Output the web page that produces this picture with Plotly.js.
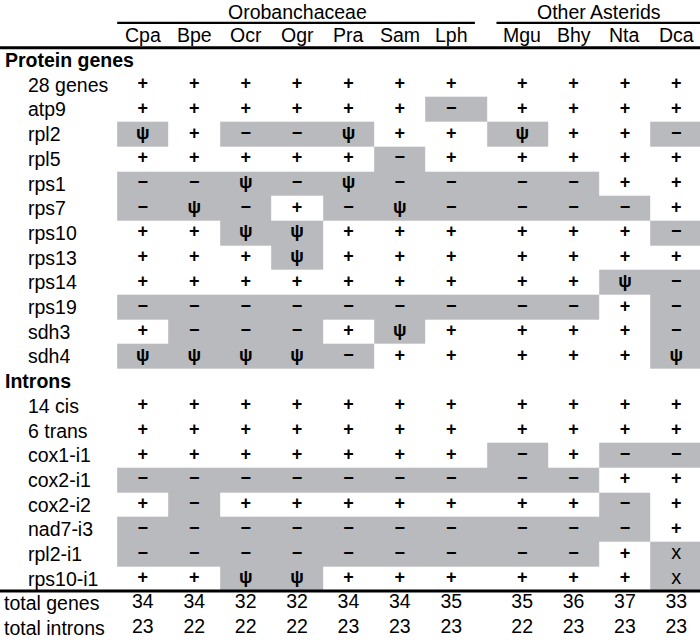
<!DOCTYPE html>
<html><head><meta charset="utf-8">
<script src="https://cdn.plot.ly/plotly-3.0.1.min.js"></script>
<style>html,body{margin:0;padding:0;background:#fff}</style>
</head><body><div id="chart" style="width:700px;height:642px"></div>
<script>
// ---- data ----
const species = ['Cpa','Bpe','Ocr','Ogr','Pra','Sam','Lph','Mgu','Bhy','Nta','Dca'];
const groupNames = ['Orobanchaceae','Other Asterids'];
const groupSizes = [7, 4];

const proteinGenes = ['28 genes','atp9','rpl2','rpl5','rps1','rps7','rps10','rps13','rps14','rps19','sdh3','sdh4'];
const proteinStatus = [
  '+++++++++++',
  '++++++−++++',
  'ψ+−−ψ++ψ++−',
  '+++++−+++++',
  '−−ψ−ψ−−−−++',
  '−ψ−+−ψ−−−−+',
  '++ψψ++++++−',
  '+++ψ+++++++',
  '+++++++++ψ−',
  '−−−−−−−−−+−',
  '+−−−+ψ++++−',
  'ψψψψ−+++++ψ'
];
const intronNames = ['14 cis','6 trans','cox1-i1','cox2-i1','cox2-i2','nad7-i3','rpl2-i1','rps10-i1'];
const intronStatus = [
  '+++++++++++',
  '+++++++++++',
  '+++++++−+−−',
  '−−−−−−−−−++',
  '+−+++++++−+',
  '−−−−−−−−−−+',
  '−−−−−−−−−+x',
  '++ψψ++++++x'
];
const totalGenes   = [34,34,32,32,34,34,35,35,36,37,33];
const totalIntrons = [23,22,22,22,23,23,23,22,23,23,23];
const sectionTitles = ['Protein genes','Introns'];
const totalLabels = ['total genes','total introns'];

// ---- layout helpers ----
const W = 700, H = 642;
const GAP = 0.38;
const FONT = 'Liberation Sans, Arial, Helvetica, sans-serif';
const FS = 19.5;
const GRAY = '#b9babd';
const colGroup = [];
groupSizes.forEach((n, g) => { for (let k = 0; k < n; k++) colGroup.push(g); });
const colX = species.map((s, i) => i + colGroup[i] * GAP);

const sections = [
  {title: sectionTitles[0], names: proteinGenes, status: proteinStatus},
  {title: sectionTitles[1], names: intronNames, status: intronStatus}
];

const hmY = [], hmZ = [];
const symX = [], symY = [], symT = [];
const xX = [], xY = [], xT = [];
const annotations = [];
let r = 0;
const pxX = px => px / W;
sections.forEach(sec => {
  hmY.push(r); hmZ.push(species.map(() => null));
  annotations.push({xref:'paper', yref:'y', x: pxX(3), y: r, xanchor:'left', yanchor:'middle',
    text: '<b>' + sec.title + '</b>', showarrow:false, font:{family:FONT, size:FS, color:'#000'}});
  r++;
  sec.names.forEach((nm, k) => {
    const st = Array.from(sec.status[k]);
    hmY.push(r);
    hmZ.push(st.map(c => c === '+' ? null : 1));
    st.forEach((c, i) => {
      if (c === 'x') { xX.push(colX[i]); xY.push(r); xT.push(c); }
      else { symX.push(colX[i]); symY.push(r); symT.push(c); }
    });
    annotations.push({xref:'paper', yref:'y', x: pxX(26), y: r, xanchor:'left', yanchor:'middle',
      text: nm, showarrow:false, font:{family:FONT, size:FS, color:'#000'}});
    r++;
  });
});
const lastDataRow = r - 1;
const totalRows = [r, r + 1];
const totX = [], totY = [], totT = [];
[totalGenes, totalIntrons].forEach((arr, j) => {
  arr.forEach((v, i) => { totX.push(colX[i]); totY.push(totalRows[j]); totT.push(String(v)); });
  annotations.push({xref:'paper', yref:'y', x: pxX(2), y: totalRows[j], xanchor:'left', yanchor:'middle',
    text: totalLabels[j], showarrow:false, font:{family:FONT, size:FS, color:'#000'}});
});

// column labels and group titles
species.forEach((s, i) => annotations.push({xref:'x', yref:'y', x: colX[i], y: -1, xanchor:'center', yanchor:'middle',
  text: s, showarrow:false, font:{family:FONT, size:FS, color:'#000'}}));
const shapes = [];
let start = 0;
groupSizes.forEach((n, g) => {
  const xs = colX.slice(start, start + n);
  const mid = (xs[0] + xs[xs.length - 1]) / 2;
  annotations.push({xref:'x', yref:'y', x: mid, y: -1.95, xanchor:'center', yanchor:'middle',
    text: groupNames[g], showarrow:false, font:{family:FONT, size:FS, color:'#000'}});
  shapes.push({type:'line', xref:'x', yref:'y', x0: xs[0] - 0.5, x1: xs[xs.length - 1] + 0.46, y0: -1.5, y1: -1.5,
    line:{color:'#000', width:2.2}, layer:'above'});
  start += n;
});
[-0.5, lastDataRow + 0.5].forEach(yv => shapes.push({type:'line', xref:'paper', yref:'y', x0: 0, x1: 1, y0: yv, y1: yv,
  line:{color:'#000', width:3}, layer:'above'}));

const traces = [
  {type:'heatmap', x: colX, y: hmY, z: hmZ, colorscale: [[0, GRAY],[1, GRAY]], zmin:0, zmax:1,
   showscale:false, hoverinfo:'skip', connectgaps:false},
  {type:'scatter', mode:'text', x: symX, y: symY, text: symT, hoverinfo:'skip',
   textfont:{family:FONT, size:18, color:'#000', weight:'bold'}},
  {type:'scatter', mode:'text', x: xX, y: xY, text: xT, hoverinfo:'skip',
   textfont:{family:FONT, size:20, color:'#000'}},
  {type:'scatter', mode:'text', x: totX, y: totY, text: totT, hoverinfo:'skip',
   textfont:{family:FONT, size:FS, color:'#000'}}
];

const layout = {
  width: W, height: H, margin:{l:0, r:0, t:0, b:0},
  paper_bgcolor:'#fff', plot_bgcolor:'#fff', showlegend:false,
  xaxis:{range:[-2.78, 10.84], visible:false, fixedrange:true},
  yaxis:{range:[23.56, -2.43], visible:false, fixedrange:true},
  annotations, shapes
};
Plotly.newPlot('chart', traces, layout, {staticPlot:true, displayModeBar:false});
</script></body></html>
